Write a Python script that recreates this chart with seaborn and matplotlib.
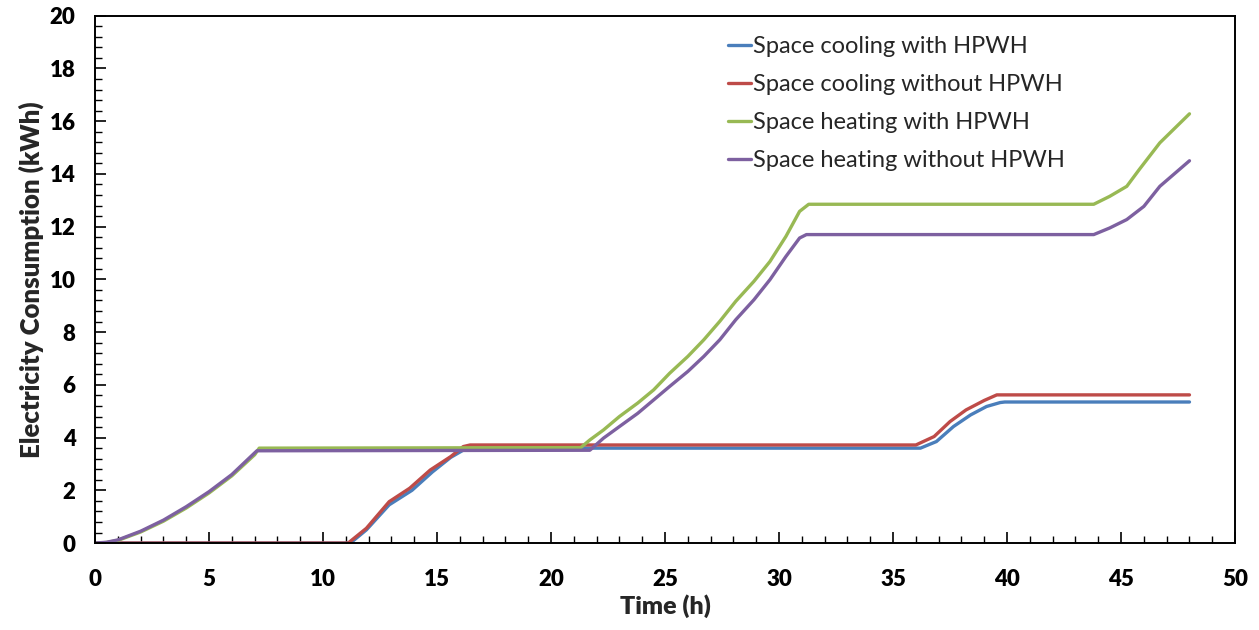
import matplotlib
matplotlib.use("Agg")
import matplotlib.pyplot as plt
from matplotlib.ticker import MultipleLocator
import seaborn as sns
import pandas as pd

# Cumulative electricity consumption (kWh) over time (h)
t_cool_with = [0, 11.2, 11.9, 12.9, 13.9, 14.8, 15.6, 16.2, 16.4,
               36.2, 36.9, 37.65, 38.4, 39.1, 39.7, 39.9, 48]
v_cool_with = [0, 0, 0.5, 1.45, 2.0, 2.7, 3.25, 3.55, 3.6,
               3.6, 3.85, 4.42, 4.86, 5.18, 5.33, 5.35, 5.35]

t_cool_without = [0, 11.1, 11.9, 12.9, 13.8, 14.7, 15.6, 16.15, 16.45,
                  36.0, 36.8, 37.5, 38.2, 39.0, 39.55, 48]
v_cool_without = [0, 0, 0.56, 1.57, 2.08, 2.77, 3.28, 3.66, 3.72,
                  3.72, 4.04, 4.61, 5.05, 5.41, 5.62, 5.62]

t_heat_with = [0, 0.5, 1, 2, 3, 4, 5, 6, 7, 7.2,
               21.3, 21.7, 22.3, 23.0, 23.8, 24.5, 25.2, 26.0, 26.7, 27.4,
               28.1, 28.9, 29.6, 30.3, 30.9, 31.3,
               43.8, 44.5, 45.25, 45.8, 46.7, 48]
v_heat_with = [0, 0.02, 0.1, 0.42, 0.83, 1.33, 1.9, 2.55, 3.35, 3.6,
               3.62, 3.91, 4.29, 4.80, 5.31, 5.81, 6.44, 7.08, 7.71, 8.41,
               9.17, 9.93, 10.68, 11.63, 12.58, 12.85,
               12.85, 13.15, 13.53, 14.17, 15.18, 16.28]

t_heat_without = [0, 0.5, 1, 2, 3, 4, 5, 6, 7, 7.1,
                  21.7, 22.3, 23.0, 23.8, 24.5, 25.2, 26.0, 26.7, 27.4,
                  28.1, 28.9, 29.6, 30.3, 30.9, 31.2,
                  43.8, 44.5, 45.25, 46.0, 46.7, 48]
v_heat_without = [0, 0.03, 0.12, 0.45, 0.87, 1.38, 1.95, 2.6, 3.42, 3.5,
                  3.52, 3.98, 4.42, 4.92, 5.43, 5.94, 6.51, 7.08, 7.71,
                  8.47, 9.23, 9.99, 10.87, 11.57, 11.7,
                  11.7, 11.95, 12.27, 12.77, 13.53, 14.5]

series_names = ["Space cooling with HPWH", "Space cooling without HPWH",
                "Space heating with HPWH", "Space heating without HPWH"]
series_colors = ["#4a7ebb", "#be4b48", "#98b954", "#7d60a0"]

frames = []
for name, ts, vs in zip(series_names,
                        [t_cool_with, t_cool_without, t_heat_with, t_heat_without],
                        [v_cool_with, v_cool_without, v_heat_with, v_heat_without]):
    frames.append(pd.DataFrame({"Time": ts, "Energy": vs, "Series": name}))
df = pd.concat(frames, ignore_index=True)

sns.set_theme(style="white")
plt.rcParams["font.family"] = ["Lato", "DejaVu Sans"]

fig = plt.figure(figsize=(12.59, 6.3), dpi=100)
ax = fig.add_axes([0.0755, 0.138, 0.9055, 0.837])

sns.lineplot(data=df, x="Time", y="Energy", hue="Series",
             hue_order=series_names, palette=dict(zip(series_names, series_colors)),
             estimator=None, sort=False, linewidth=2.4, ax=ax)

ax.set_xlim(0, 50)
ax.set_ylim(0, 20)
ax.xaxis.set_major_locator(MultipleLocator(5))
ax.xaxis.set_minor_locator(MultipleLocator(1))
ax.yaxis.set_major_locator(MultipleLocator(2))
ax.yaxis.set_minor_locator(MultipleLocator(0.4))

ax.tick_params(axis="both", which="major", direction="in", length=8, width=1.2,
               colors="black", labelsize=16, bottom=True, left=True)
ax.tick_params(axis="both", which="minor", direction="in", length=5, width=1.0,
               colors="black", bottom=True, left=True)
ax.tick_params(axis="x", which="major", pad=19)
ax.tick_params(axis="y", which="major", pad=14)
for lbl in ax.get_xticklabels() + ax.get_yticklabels():
    lbl.set_fontweight("heavy")

for sp in ax.spines.values():
    sp.set_color("black")
    sp.set_linewidth(1.4)

ax.set_xlabel("Time (h)", fontsize=18, fontweight="heavy", labelpad=3)
ax.set_ylabel("Electricity Consumption (kWh)", fontsize=18.5, fontweight="heavy", labelpad=4)

leg = ax.legend(loc="upper left", bbox_to_anchor=(0.547, 0.979), frameon=False,
                fontsize=17, handlelength=0.95, handletextpad=0.1,
                labelspacing=0.72, borderaxespad=0)
for line in leg.get_lines():
    line.set_linewidth(2.4)

fig.savefig("out.png", dpi=100, facecolor="white")
